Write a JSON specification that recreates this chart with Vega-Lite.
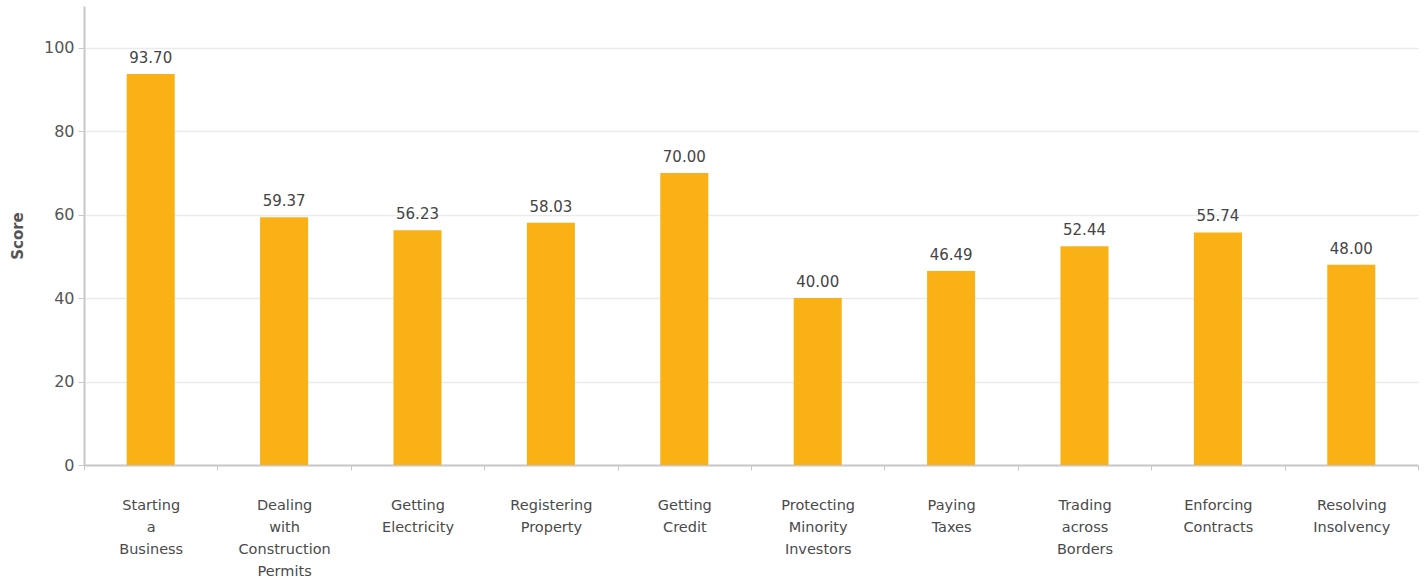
{
  "$schema": "https://vega.github.io/schema/vega-lite/v6.json",
  "autosize": {"type": "none"},
  "width": 1334,
  "height": 459,
  "padding": {"left": 84, "top": 6, "right": 9, "bottom": 116},
  "background": "white",
  "config": {
    "view": {"stroke": null},
    "font": "DejaVu Sans"
  },
  "data": {
    "values": [
      {"indicator": "Starting a Business", "score": 93.70},
      {"indicator": "Dealing with Construction Permits", "score": 59.37},
      {"indicator": "Getting Electricity", "score": 56.23},
      {"indicator": "Registering Property", "score": 58.03},
      {"indicator": "Getting Credit", "score": 70.00},
      {"indicator": "Protecting Minority Investors", "score": 40.00},
      {"indicator": "Paying Taxes", "score": 46.49},
      {"indicator": "Trading across Borders", "score": 52.44},
      {"indicator": "Enforcing Contracts", "score": 55.74},
      {"indicator": "Resolving Insolvency", "score": 48.00}
    ]
  },
  "encoding": {
    "x": {
      "field": "indicator",
      "type": "nominal",
      "sort": null,
      "scale": {"paddingInner": 0, "paddingOuter": 0},
      "axis": {
        "title": null,
        "labelAngle": 0,
        "labelExpr": "isValid(datum.value) ? split(datum.value, ' ') : ''",
        "labelFont": "DejaVu Sans",
        "labelFontSize": 14.5,
        "labelColor": "#4a4a4a",
        "labelLineHeight": 22,
        "labelPadding": 28,
        "labelBaseline": "top",
        "tickBand": "extent",
        "tickSize": 5,
        "tickColor": "#c8c8c8",
        "domainColor": "#c8c8c8",
        "domainWidth": 2,
        "grid": false
      }
    },
    "y": {
      "field": "score",
      "type": "quantitative",
      "scale": {"domain": [0, 110], "nice": false},
      "axis": {
        "title": "Score",
        "titleFont": "DejaVu Sans",
        "titleFontSize": 15,
        "titleFontWeight": "bold",
        "titleColor": "#555555",
        "titlePadding": 18,
        "values": [0, 20, 40, 60, 80, 100],
        "labelFont": "DejaVu Sans",
        "labelFontSize": 16,
        "labelColor": "#555555",
        "labelPadding": 4,
        "tickSize": 6,
        "tickColor": "#c8c8c8",
        "domainColor": "#c8c8c8",
        "domainWidth": 2,
        "gridColor": "#ebebeb",
        "gridWidth": 1.5
      }
    }
  },
  "layer": [
    {"mark": {"type": "bar", "color": "#F9B115", "width": {"band": 0.36}}},
    {
      "mark": {"type": "text", "baseline": "bottom", "dy": -8, "fontSize": 15, "color": "#444444", "font": "DejaVu Sans"},
      "encoding": {"text": {"field": "score", "type": "quantitative", "format": ".2f"}}
    }
  ]
}
